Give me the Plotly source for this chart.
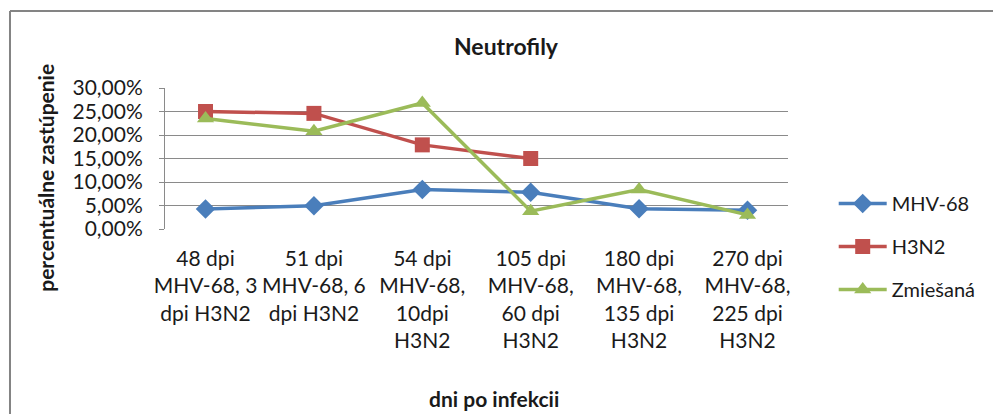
import plotly.graph_objects as go

categories = [
    "48 dpi<br>MHV-68, 3<br>dpi H3N2",
    "51 dpi<br>MHV-68, 6<br>dpi H3N2",
    "54 dpi<br>MHV-68,<br>10dpi<br>H3N2",
    "105 dpi<br>MHV-68,<br>60 dpi<br>H3N2",
    "180 dpi<br>MHV-68,<br>135 dpi<br>H3N2",
    "270 dpi<br>MHV-68,<br>225 dpi<br>H3N2",
]
mhv68 = [0.0425, 0.0495, 0.084, 0.078, 0.043, 0.040]
h3n2 = [0.250, 0.246, 0.179, 0.150, None, None]
zmiesana = [0.235, 0.208, 0.268, 0.038, 0.084, 0.030]

FONT = "Lato"
TXT = "#1a1a1a"
FS = 21

series = [
    ("MHV-68", mhv68, "#4a7ebb", "diamond", 15),
    ("H3N2", h3n2, "#c0504d", "square", 15),
    ("Zmiešaná", zmiesana, "#9bbb59", "triangle-up", 15),
]

fig = go.Figure()
for i, (name, vals, color, sym, size) in enumerate(series):
    fig.add_trace(go.Scatter(
        x=categories, y=vals, name=name, mode="lines+markers",
        line=dict(color=color, width=3.5),
        marker=dict(symbol=sym, size=size, color=color),
        legendgroup=f"g{i}",
    ))

# plot area in pixels, and helpers to convert to paper coordinates
L, T, W, H = 165, 88, 627, 141
def px(x):
    return (x - L) / W
def py(y):
    return (T + H - y) / H

# chart frame (extends past the right and bottom edges)
fig.add_shape(type="line", xref="paper", yref="paper",
              x0=px(9), x1=px(1000), y0=py(11), y1=py(11),
              line=dict(color="#848484", width=2))
fig.add_shape(type="line", xref="paper", yref="paper",
              x0=px(9), x1=px(9), y0=py(11), y1=py(420),
              line=dict(color="#848484", width=2))

# axis titles
fig.add_annotation(text="<b>percentuálne zastúpenie</b>", xref="paper", yref="paper",
                   x=px(44), y=py(178), textangle=-90, showarrow=False,
                   xanchor="center", yanchor="middle",
                   font=dict(family=FONT, size=FS, color=TXT))
fig.add_annotation(text="<b>dni po infekcii</b>", xref="paper", yref="paper",
                   x=px(496), y=py(398), showarrow=False,
                   xanchor="center", yanchor="middle",
                   font=dict(family=FONT, size=FS, color=TXT))

fig.update_layout(
    width=993, height=414,
    margin=dict(l=L, r=993 - L - W, t=T, b=414 - T - H),
    paper_bgcolor="white", plot_bgcolor="white",
    separators=", ",
    font=dict(family=FONT, size=FS, color=TXT),
    title=dict(text="<b>Neutrofily</b>", x=506 / 993, xanchor="center",
               y=1 - 47 / 414, yanchor="middle",
               font=dict(family=FONT, size=23, color=TXT)),
    showlegend=True,
    legend=dict(x=px(838), y=py(184), xanchor="left", yanchor="top",
                font=dict(family=FONT, size=20, color=TXT),
                tracegroupgap=14, itemwidth=48, bgcolor="rgba(0,0,0,0)"),
    xaxis=dict(
        type="category", showgrid=False, showline=False, ticks="",
        ticklabelstandoff=15,
        tickfont=dict(family=FONT, size=FS, color=TXT),
        fixedrange=True,
    ),
    yaxis=dict(
        range=[0, 0.30], dtick=0.05, tickformat=".2%",
        showgrid=True, gridcolor="#8a8a8a", gridwidth=1,
        showline=True, linecolor="#8a8a8a", linewidth=1,
        ticks="outside", ticklen=5, tickcolor="#8a8a8a",
        ticklabelstandoff=12,
        tickfont=dict(family=FONT, size=FS, color=TXT),
        zeroline=False, fixedrange=True,
    ),
)

fig.write_html("out.html")
